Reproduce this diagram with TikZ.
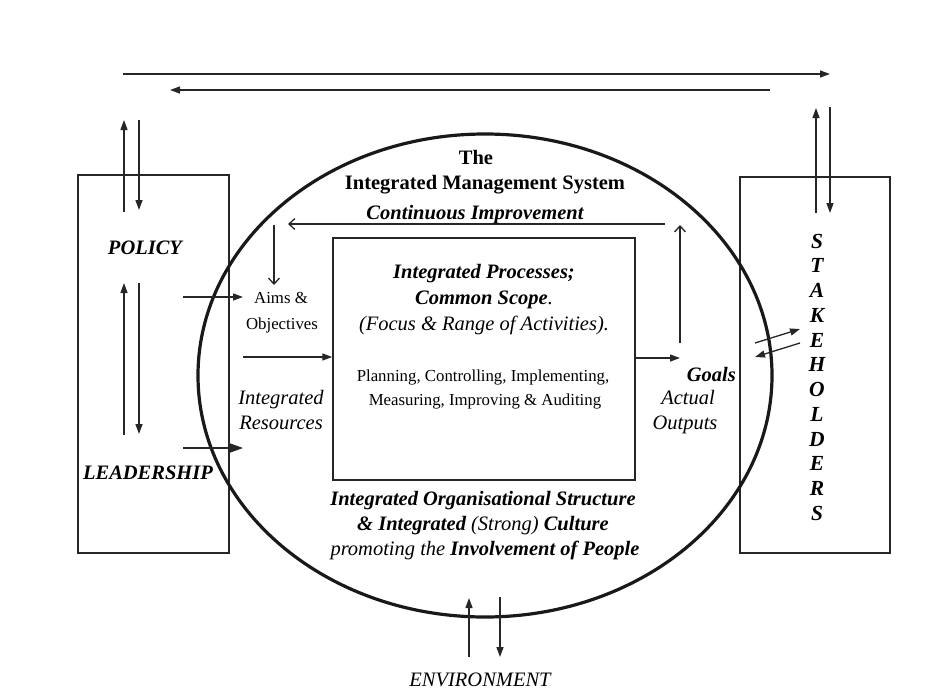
\documentclass[tikz,border=0pt]{standalone}
\usepackage{fontspec}
\setmainfont{Liberation Serif}
\usetikzlibrary{arrows.meta,shapes.geometric}
\begin{document}
\begin{tikzpicture}[x=1pt,y=-1pt,
  line/.style={line width=1.3pt, draw=black!85},
  fat/.style={-{Triangle[length=10pt,width=7pt]}},
  fatter/.style={-{Triangle[length=13pt,width=9pt]}},
  barb/.style={-{Straight Barb[length=6pt,width=11pt,line width=1.3pt]}},
  frame/.style={draw=black!85, line width=1.5pt, inner sep=0pt},
  big/.style={font=\fontsize{20.5}{24}\selectfont, inner sep=0pt, anchor=base},
  small/.style={font=\fontsize{16.8}{20}\selectfont, inner sep=0pt, anchor=base},
  letter/.style={font=\fontsize{21.5}{24}\selectfont\bfseries\itshape, inner sep=0pt, anchor=base}
]
\useasboundingbox (0,0) rectangle (927,689);

% boxes and the system ellipse
\node[frame, minimum width=151pt, minimum height=378pt] (lbox) at (153.5,364) {};
\node[frame, minimum width=150pt, minimum height=376pt] (rbox) at (815,365) {};
\node[frame, minimum width=302pt, minimum height=242pt] (inner) at (484,359) {};
\node[draw=black!90, line width=3.2pt, ellipse, inner sep=0pt,
      minimum width=574pt, minimum height=483pt] (ims) at (485,375.5) {};

% exchange along the top
\coordinate (t1a) at (123,74);  \coordinate (t1b) at (830,74);
\coordinate (t2a) at (770,90);  \coordinate (t2b) at (170,90);
\draw[line,fat] (t1a) -- (t1b);
\draw[line,fat] (t2a) -- (t2b);

% policy <-> top
\coordinate (pu1) at (124,212); \coordinate (pu2) at (124,120);
\coordinate (pd1) at (139,120); \coordinate (pd2) at (139,210);
\draw[line,fat] (pu1) -- (pu2);
\draw[line,fat] (pd1) -- (pd2);

% stakeholders <-> top
\coordinate (su1) at (816,213); \coordinate (su2) at (816,108);
\coordinate (sd1) at (830,107); \coordinate (sd2) at (830,213);
\draw[line,fat] (su1) -- (su2);
\draw[line,fat] (sd1) -- (sd2);

% policy <-> leadership
\coordinate (lu1) at (124,435); \coordinate (lu2) at (124,283);
\coordinate (ld1) at (139,283); \coordinate (ld2) at (139,434);
\draw[line,fat] (lu1) -- (lu2);
\draw[line,fat] (ld1) -- (ld2);

% inputs from the left
\coordinate (ain1) at (183,297); \coordinate (ain2) at (243,297);
\draw[line,fat] (ain1) -- (ain2);
\coordinate (rin) at (243,357);
\draw[line,fat] (rin) -- (rin -| inner.west);
\coordinate (lin1) at (183,448); \coordinate (lin2) at (243,448);
\draw[line,fatter] (lin1) -- (lin2);

% output to goals
\coordinate (gout) at (680,358);
\draw[line,fat] (gout -| inner.east) -- (gout);

% continuous improvement loop
\coordinate (ci1) at (665,224); \coordinate (ci2) at (288,224);
\coordinate (cu1) at (680,343); \coordinate (cu2) at (680,225);
\coordinate (cd1) at (274,225); \coordinate (cd2) at (274,285);
\draw[line,barb] (ci1) -- (ci2);
\draw[line,barb] (cu1) -- (cu2);
\draw[line,barb] (cd1) -- (cd2);

% goals <-> stakeholders
\coordinate (gs1) at (755,343); \coordinate (gs2) at (800,329);
\coordinate (sg1) at (800,343); \coordinate (sg2) at (755,357);
\draw[line,fat] (gs1) -- (gs2);
\draw[line,fat] (sg1) -- (sg2);

% environment
\coordinate (eu1) at (469,657); \coordinate (eu2) at (469,598);
\coordinate (ed1) at (500,597); \coordinate (ed2) at (500,657);
\draw[line,fat] (eu1) -- (eu2);
\draw[line,fat] (ed1) -- (ed2);

% texts
\node[big] (the) at (476,164) {\bfseries The};
\node[big] (imstitle) at (485,189) {\bfseries Integrated Management System};
\node[big] (cimp) at (475,219) {\bfseries\itshape Continuous Improvement};

\node[big] (policy) at (145,254) {\bfseries\itshape POLICY};
\node[big] (leader) at (148,479) {\bfseries\itshape LEADERSHIP};

\node[small] (aims) at (281,303) {Aims \&};
\node[small] (obj) at (282,329) {Objectives};
\node[big] (ires1) at (281,404) {\itshape Integrated};
\node[big] (ires2) at (281,429) {\itshape Resources};

\node[big] (ip1) at (484,278) {\bfseries\itshape Integrated Processes;};
\node[big] (ip2) at (484,304) {\bfseries\itshape Common Scope\mdseries.};
\node[big] (ip3) at (484,330) {\itshape (Focus \& Range of Activities).};
\node[small] (pl1) at (483,381) {Planning, Controlling, Implementing,};
\node[small] (pl2) at (485,405) {Measuring, Improving \& Auditing};

\node[big, anchor=base east] (goals) at (736,381) {\bfseries\itshape Goals};
\node[big] (act1) at (688,404) {\itshape Actual};
\node[big] (act2) at (685,429) {\itshape Outputs};

\node[big] (os1) at (483,505) {\bfseries\itshape Integrated Organisational Structure};
\node[big] (os2) at (483,530) {\itshape\bfseries \& Integrated \mdseries(Strong) \bfseries Culture};
\node[big] (os3) at (485,555) {\itshape promoting the \bfseries Involvement of People};

\node[big] (env) at (480,686) {\itshape ENVIRONMENT};

\foreach \ch [count=\i from 0] in {S,T,A,K,E,H,O,L,D,E,R,S}
  \node[letter] (sh\i) at (817,248+24.75*\i) {\ch};
\end{tikzpicture}
\end{document}
